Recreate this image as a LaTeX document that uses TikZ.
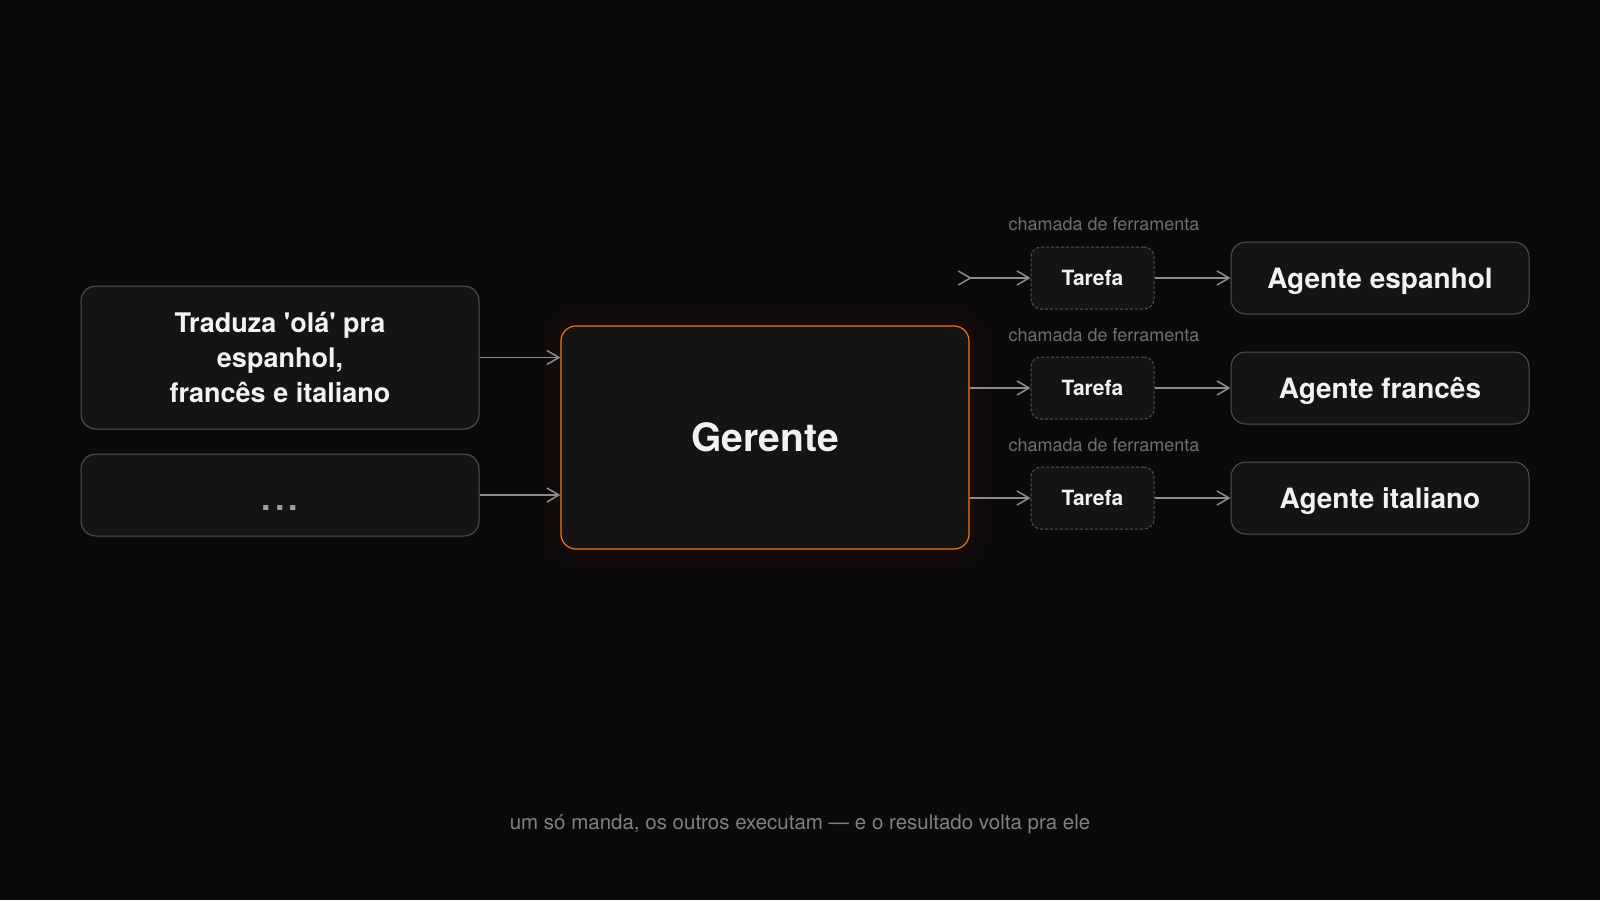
\documentclass[tikz,border=0pt]{standalone}
\usepackage{fontspec}
\setmainfont{TeX Gyre Heros}
\usetikzlibrary{arrows.meta}
\definecolor{fundo}{HTML}{0A0A0A}
\definecolor{caixa}{HTML}{141414}
\definecolor{borda}{HTML}{525252}
\definecolor{laranja}{HTML}{F97316}
\definecolor{seta}{HTML}{8C8C8C}
\definecolor{rotulo}{HTML}{6E6E6E}
\definecolor{lema}{HTML}{808080}
\definecolor{texto}{HTML}{F2F2F2}
\begin{document}
\begin{tikzpicture}[x=1pt, y=-1pt,
        >={Straight Barb[length=12pt,width=14pt]},
        bloco/.style={draw=borda, fill=caixa, line width=1pt, rounded corners=15pt, inner sep=0pt, text=texto, align=center},
        tarefa/.style={bloco, rounded corners=10pt, dash pattern={on 3pt off 2pt}, minimum width=123pt, minimum height=62pt, text depth=0pt, font=\bfseries\fontsize{21}{25}\selectfont},
        agente/.style={bloco, minimum width=298pt, minimum height=72pt, text depth=0pt, font=\bfseries\fontsize{28}{34}\selectfont},
        chamada/.style={text=rotulo, font=\fontsize{18}{22}\selectfont},
        fluxo/.style={draw=seta, line width=1.5pt, ->}]
            \fill[fundo] (0,0) rectangle (1600,900);
            \useasboundingbox (0,0) rectangle (1600,900);
            \foreach \g in {2,4,...,24}
                \fill[laranja, opacity=0.009, rounded corners={(15+\g)*1pt}] (561-\g,326-\g) rectangle (969+\g,549+\g);
            \node[bloco, minimum width=398pt, minimum height=143pt, font=\bfseries\fontsize{27}{35}\selectfont] (pedido) at (280,357.5) {Traduza \textquotesingle ol\'a\textquotesingle{} pra\\espanhol,\\francês e italiano};
            \node[bloco, minimum width=398pt, minimum height=82pt, text=gray!75, text height=31pt, text depth=0pt, font=\bfseries\fontsize{34}{40}\selectfont] (outros) at (280,495) {.\hspace{4pt}.\hspace{4pt}.};
            \node[bloco, draw=laranja, line width=1.2pt, minimum width=408pt, minimum height=223pt, font=\bfseries\fontsize{39}{45}\selectfont] (gerente) at (765,437.5) {Gerente};
            \node[tarefa] (tarefaA) at (1092.5,278) {Tarefa};
            \node[tarefa] (tarefaB) at (1092.5,388) {Tarefa};
            \node[tarefa] (tarefaC) at (1092.5,498) {Tarefa};
            \node[agente] (espanhol) at (1380,278) {Agente espanhol};
            \node[agente] (frances) at (1380,388) {Agente francês};
            \node[agente] (italiano) at (1380,498) {Agente italiano};
            \node[chamada] (chamadaA) at (1104,224.5) {chamada de ferramenta};
            \node[chamada] (chamadaB) at (1104,335) {chamada de ferramenta};
            \node[chamada] (chamadaC) at (1104,445) {chamada de ferramenta};
            \draw[fluxo] (pedido) -- (pedido -| gerente.west);
            \draw[fluxo] (outros) -- (outros -| gerente.west);
            \draw[fluxo, {Straight Barb[length=12pt,width=14pt,reversed]}->, shorten <=-12pt] (tarefaA -| gerente.east) -- (tarefaA);
            \draw[fluxo] (tarefaB -| gerente.east) -- (tarefaB);
            \draw[fluxo] (tarefaC -| gerente.east) -- (tarefaC);
            \draw[fluxo] (tarefaA) -- (espanhol);
            \draw[fluxo] (tarefaB) -- (frances);
            \draw[fluxo] (tarefaC) -- (italiano);
            \node[text=lema, font=\fontsize{20.5}{24}\selectfont] (frase) at (800,824) {um só manda, os outros executam — e o resultado volta pra ele};
        \end{tikzpicture}
\end{document}
